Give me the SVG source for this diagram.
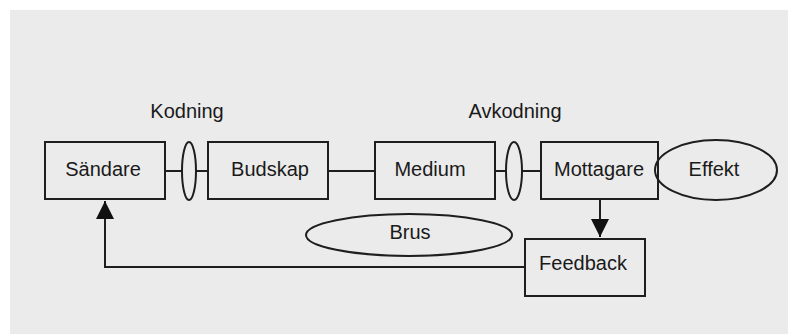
<svg xmlns="http://www.w3.org/2000/svg" width="788" height="334" viewBox="0 0 788 334">
  <defs>
    <style>
      .box { fill: none; stroke: #1e1e1e; stroke-width: 2; }
      .ell { fill: none; stroke: #1e1e1e; stroke-width: 2; }
      .ln { fill: none; stroke: #1e1e1e; stroke-width: 2; }
      .t { font-family: "Liberation Sans", Arial, sans-serif; font-size: 20px; fill: #1a1a1a; text-anchor: middle; }
    </style>
    <marker id="ah" markerWidth="22" markerHeight="18" refX="18" refY="9" orient="auto" markerUnits="userSpaceOnUse">
      <path d="M0,0 L18,9 L0,18 Z" fill="#111"/>
    </marker>
  </defs>
  <rect x="0" y="0" width="788" height="334" fill="#ffffff"/>
  <rect x="10" y="10" width="778" height="324" fill="#ebebeb"/>

  <g id="connectors">
    <line class="ln" x1="165" y1="171" x2="182" y2="171"/>
    <line class="ln" x1="196" y1="171" x2="208" y2="171"/>
    <line class="ln" x1="328" y1="171" x2="375" y2="171"/>
    <line class="ln" x1="495" y1="171" x2="506" y2="171"/>
    <line class="ln" x1="522" y1="171" x2="541" y2="171"/>
    <line class="ln" x1="600" y1="199" x2="600" y2="237" marker-end="url(#ah)"/>
    <polyline class="ln" points="525,267 105,267 105,201" marker-end="url(#ah)"/>
  </g>

  <g id="kodning">
    <ellipse class="ell" cx="189" cy="171" rx="7" ry="29"/>
    <text class="t" x="187" y="118">Kodning</text>
  </g>
  <g id="avkodning">
    <ellipse class="ell" cx="514" cy="171" rx="8" ry="29"/>
    <text class="t" x="515" y="118">Avkodning</text>
  </g>
  <g id="sandare">
    <rect class="box" x="45" y="142" width="120" height="57"/>
    <text class="t" x="103" y="176">Sändare</text>
  </g>
  <g id="budskap">
    <rect class="box" x="208" y="142" width="120" height="57"/>
    <text class="t" x="270" y="176">Budskap</text>
  </g>
  <g id="medium">
    <rect class="box" x="375" y="142" width="120" height="57"/>
    <text class="t" x="430" y="176">Medium</text>
  </g>
  <g id="mottagare">
    <rect class="box" x="541" y="142" width="117" height="57"/>
    <text class="t" x="599" y="176">Mottagare</text>
  </g>
  <g id="effekt">
    <ellipse class="ell" cx="716" cy="170" rx="61" ry="30"/>
    <text class="t" x="714" y="176">Effekt</text>
  </g>
  <g id="brus">
    <ellipse class="ell" cx="409" cy="235" rx="103" ry="21"/>
    <text class="t" x="410" y="239">Brus</text>
  </g>
  <g id="feedback">
    <rect class="box" x="525" y="239" width="120" height="57"/>
    <text class="t" x="583" y="270">Feedback</text>
  </g>
</svg>
